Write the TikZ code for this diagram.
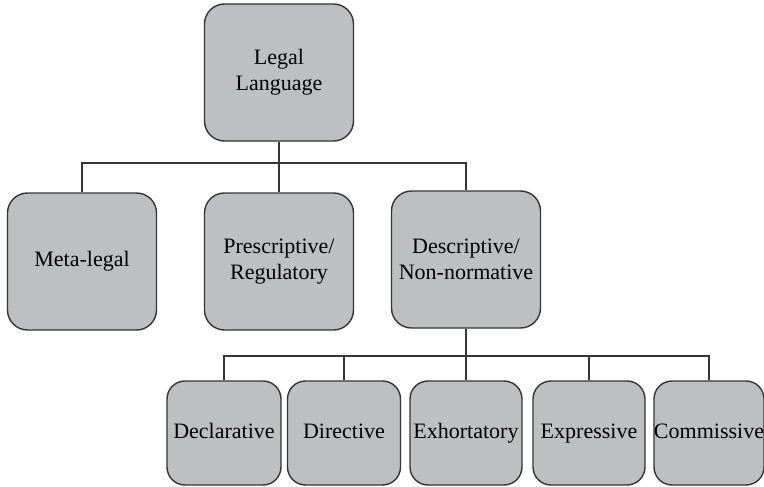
\documentclass[tikz,border=0pt]{standalone}
\usepackage{fontspec}
\setmainfont{Liberation Serif}
\begin{document}
\begin{tikzpicture}[x=1pt,y=-1pt,
  box/.style={draw=linegray, fill=boxgray, line width=1.4pt, rounded corners=20pt,
    align=center, inner sep=0pt, font=\fontsize{22}{26}\selectfont},
  bigbox/.style={box, minimum width=149pt, minimum height=137pt},
  smallbox/.style={box, minimum width=112pt, minimum height=104pt, rounded corners=18pt,
    text height=15pt, text depth=5pt},
  link/.style={draw=linegray, line width=1.4pt}]
\definecolor{boxgray}{HTML}{BEBFC1}
\definecolor{linegray}{HTML}{353535}
\useasboundingbox (0,0) rectangle (764,487);
% root and first level
\node[bigbox] (root) at (279,72.5) {Legal\\Language};
\node[bigbox] (meta) at (82,261.5) {Meta-legal};
\node[bigbox] (pres) at (279,261.5) {Prescriptive/\\Regulatory};
\node[bigbox] (desc) at (466,259.5) {Descriptive/\\Non-normative};
% second level under the descriptive branch
\node[smallbox, minimum width=114pt] (decl) at (224,433) {Declarative};
\node[smallbox, minimum width=113pt] (dir) at (344,433) {Directive};
\node[smallbox] (exh) at (466,433) {Exhortatory};
\node[smallbox] (expr) at (589,433) {Expressive};
\node[smallbox, minimum width=110pt] (comm) at (709,433) {Commissive};
% connectors
\coordinate (j1) at (279,163);
\coordinate (j2) at (466,356);
\draw[link] (root.south) -- (j1) -- (pres.north);
\draw[link] (meta.north) |- (j1);
\draw[link] (desc.north) |- (j1);
\draw[link] (desc.south) -- (j2) -- (exh.north);
\draw[link] (decl.north) |- (j2);
\draw[link] (dir.north) |- (j2);
\draw[link] (expr.north) |- (j2);
\draw[link] (comm.north) |- (j2);
\end{tikzpicture}
\end{document}
